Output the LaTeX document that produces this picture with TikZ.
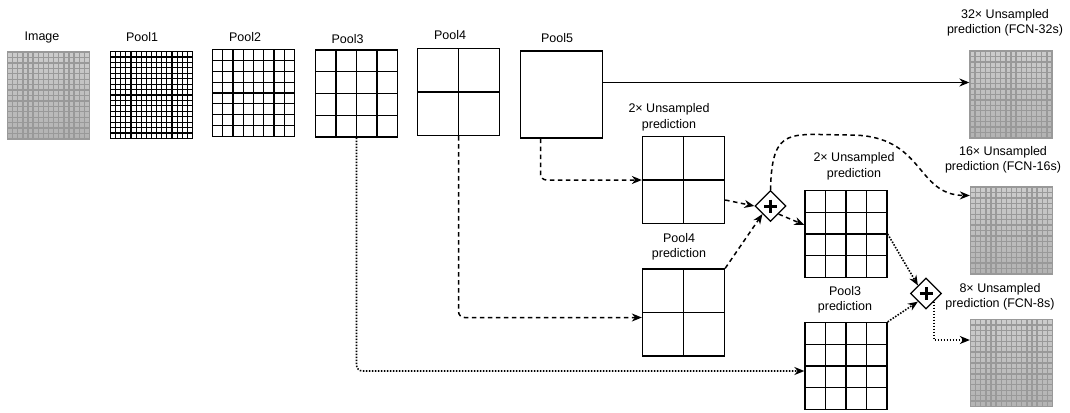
\documentclass[tikz,border=0pt]{standalone}
\usepackage{fontspec}
\setmainfont{Liberation Sans}
\usetikzlibrary{arrows.meta, shapes.geometric, calc}

% grid lines inside a box: divisions, colour, width
\newcommand\drawcells[3]{%
  \pgfmathtruncatemacro\lastcell{#1-1}%
  \foreach \k in {1,...,\lastcell}{
    \draw[#2, line width=#3]
      ($(path picture bounding box.south west)!{\k/#1}!(path picture bounding box.south east)$) --
      ($(path picture bounding box.north west)!{\k/#1}!(path picture bounding box.north east)$);
    \draw[#2, line width=#3]
      ($(path picture bounding box.south west)!{\k/#1}!(path picture bounding box.north west)$) --
      ($(path picture bounding box.south east)!{\k/#1}!(path picture bounding box.north east)$);
  }}

\begin{document}
\begin{tikzpicture}[
    x=1pt, y=-1pt,
    box/.style={rectangle, draw=black, line width=1.3pt, fill=white, inner sep=0pt,
                minimum width=82pt, minimum height=87pt},
    cells/.style={box, path picture={\drawcells{#1}{black}{1.2pt}}},
    photo/.style={box, draw=gray!80, top color=gray!40, middle color=gray!15, bottom color=gray!60,
                  path picture={\drawcells{16}{gray!80}{1.3pt}}},
    sum/.style={diamond, draw=black, line width=1.3pt, fill=white, inner sep=0pt,
                minimum width=31pt, minimum height=31pt,
                path picture={\draw[line width=3pt] ($(path picture bounding box.center)+(-6.5,0)$) -- ++(13,0)
                                ($(path picture bounding box.center)+(0,-6.5)$) -- ++(0,13);}},
    lbl/.style={font=\fontsize{12.5}{15.5}\selectfont, align=center, inner sep=0pt},
    arrow/.style={-{Stealth[length=10pt, width=8pt]}, line width=1.5pt},
    dasharrow/.style={arrow, dash pattern=on 4.5pt off 3.5pt},
    dotarrow/.style={arrow, dash pattern=on 1.5pt off 1.5pt, line width=1.6pt}
]
\useasboundingbox (0,0) rectangle (1070,412);

% encoder
\node[photo] (img) at (48.5,95.5) {};
\node[cells=16] (pool1) at (151.5,95) {};
\node[cells=8] (pool2) at (253.5,93) {};
\node[cells=4] (pool3) at (356.5,93.5) {};
\node[cells=2] (pool4) at (458.5,92) {};
\node[box] (pool5) at (561.5,94.5) {};
\node[lbl] (img-t) at (42,37) {Image};
\node[lbl] (pool1-t) at (142,37) {Pool1};
\node[lbl] (pool2-t) at (245,37) {Pool2};
\node[lbl] (pool3-t) at (347.5,39) {Pool3};
\node[lbl] (pool4-t) at (450,35) {Pool4};
\node[lbl] (pool5-t) at (557,38) {Pool5};

% decoder
\node[cells=2] (up2a) at (683.5,180) {};
\node[cells=2] (p4pred) at (683.5,312.5) {};
\node[cells=4] (up2b) at (846,234) {};
\node[cells=4] (p3pred) at (846,366) {};
\node[sum] (sum1) at (770.5,206) {};
\node[sum] (sum2) at (926,293.5) {};
\node[lbl] (up2a-t) at (669,117.5) {2× Unsampled\\prediction};
\node[lbl] (p4pred-t) at (679,247) {Pool4\\prediction};
\node[lbl] (up2b-t) at (854,166.5) {2× Unsampled\\prediction};
\node[lbl] (p3pred-t) at (845,300) {Pool3\\prediction};

% outputs
\node[photo] (fcn32) at (1011,94.5) {};
\node[photo] (fcn16) at (1011.5,230.5) {};
\node[photo] (fcn8) at (1011.5,363) {};
\node[lbl] (fcn32-t) at (1005,23) {32× Unsampled\\prediction (FCN-32s)};
\node[lbl] (fcn16-t) at (1003,160) {16× Unsampled\\prediction (FCN-16s)};
\node[lbl] (fcn8-t) at (1000,297) {8× Unsampled\\prediction (FCN-8s)};

% connectors
\draw[arrow] ([yshift=12pt]pool5.east) -- ([yshift=12pt]pool5.east -| fcn32.west);
\draw[dasharrow, rounded corners=6pt] ([xshift=-21pt]pool5.south) |- (up2a.west);
\draw[dasharrow, rounded corners=6pt] (pool4.south) |- ([yshift=-5pt]p4pred.west);
\draw[dotarrow, rounded corners=6pt] (pool3.south) |- ([yshift=-5pt]p3pred.west);
\draw[dasharrow] ([yshift=-20pt]up2a.east) -- (sum1.west);
\draw[dasharrow] (p4pred.north east) -- (sum1.south west);
\draw[dasharrow] (sum1.south east) -- ([yshift=9pt]up2b.west);
\draw[dasharrow] (sum1.north) .. controls (772,125) and (790,135) .. (850,135)
                 .. controls (925,135) and (915,195) .. ([yshift=35pt]fcn16.west);
\draw[dotarrow] (up2b.east) -- (sum2.north west);
\draw[dotarrow] (p3pred.north east) -- (sum2.south west);
\draw[dotarrow] (sum2.south east) |- ([yshift=23pt]fcn8.west);
\end{tikzpicture}
\end{document}
